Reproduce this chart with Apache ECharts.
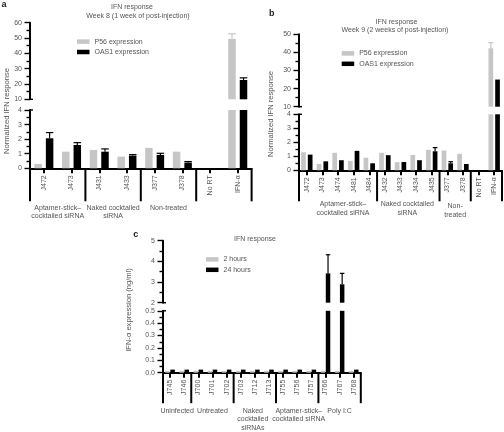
<!DOCTYPE html>
<html><head><meta charset="utf-8">
<script src="https://cdn.jsdelivr.net/npm/echarts@6/dist/echarts.min.js"></script>
<style>html,body{margin:0;padding:0;background:#fff}#c{width:504px;height:432px}</style>
</head><body><div id="c"></div>
<script>
// ---- Panel a data ----
const catsA = ['J472','J473','J431','J433','J377','J378','No RT','IFN-α'];
const p56A = [0.3, 1.14, 1.26, 0.8, 1.4, 1.14, 0, 49.5];
const p56ErrA = [null, null, null, null, null, null, null, 52.8];
const oasA = [2.06, 1.6, 1.14, 0.87, 0.92, 0.39, 0, 22.6];
const oasErrA = [2.45, 1.76, 1.33, 0.94, 1.03, 0.46, null, 24];
// ---- Panel b data ----
const catsB = ['J472','J473','J474','J481','J484','J432','J433','J434','J435','J377','J378','No RT','IFN-α'];
const p56B = [1.29, 0.45, 1.25, 0.67, 0.9, 1.25, 0.58, 1.1, 1.46, 1.41, 1.18, 0, 42.3];
const p56ErrB = [null, null, null, null, null, null, null, null, null, null, null, null, 45.4];
const oasB = [1.12, 0.64, 0.72, 1.39, 0.5, 1.08, 0.59, 0.72, 1.36, 0.5, 0.45, 0, 25];
const oasErrB = [null, null, null, null, null, null, null, null, 1.62, 0.61, null, null, null];
// ---- Panel c data ----
const catsC = ['J745','J746','J700','J701','J702','J703','J712','J713','J755','J756','J757','J766','J767','J768'];
const h2C = [0.015,0.015,0.015,0.015,0.015,0.015,0.015,0.015,0.015,0.015,0.015,0.015,0.015,0.015];
const h24C = [0.025,0.025,0.025,0.025,0.025,0.025,0.025,0.025,0.025,0.025,0.025,3.42,2.89,0.025];
const h24ErrC = [null,null,null,null,null,null,null,null,null,null,null,4.32,3.42,null];
// ---- tick labels / groups ----
const groupsA = [
  {from:0,to:2,label:'Aptamer-stick–\ncocktailed siRNA'},
  {from:2,to:4,label:'Naked cocktailed\nsiRNA'},
  {from:4,to:6,label:'Non-treated'},
  {from:6,to:8,label:''}];
const groupsB = [
  {from:0,to:5,label:'Aptamer-stick–\ncocktailed siRNA',dx:5},
  {from:5,to:9,label:'Naked cocktailed\nsiRNA',dx:-1},
  {from:9,to:11,label:'Non-\ntreated',dy:1.5},
  {from:11,to:13,label:''}];
const groupsC = [
  {from:0,to:2,label:'Uninfected'},
  {from:2,to:5,label:'Untreated'},
  {from:5,to:8,label:'Naked\ncocktailed\nsiRNAs',dx:-2},
  {from:8,to:11,label:'Aptamer-stick–\ncocktailed siRNA',dx:1.5},
  {from:11,to:14,label:'Poly I:C'}];

const FONT = '"Liberation Sans", Arial, Helvetica, sans-serif';
const TXT = '#555';
const GREY = '#c6c6c6';
const chart = echarts.init(document.getElementById('c'), null, {renderer:'canvas'});

const grids = [
  {left:30, top:22.7, width:221.6, height:76.6},
  {left:30, top:110, width:221.6, height:58.3},
  {left:299, top:34.3, width:203, height:72.4},
  {left:299, top:114.3, width:203, height:56},
  {left:163, top:240.7, width:197.8, height:62},
  {left:163, top:310.8, width:197.8, height:61.9}
].map(g => Object.assign({outerBoundsMode:'none', containLabel:false}, g));

function yAx(gi, min, max, interval, fmt) {
  return {type:'value', gridIndex:gi, min, max, interval,
    axisLine:{show:true, lineStyle:{color:'#000', width:2}},
    axisTick:{show:true, inside:false, length:5.5, lineStyle:{color:'#000', width:1.4}},
    minorTick:{show:true, splitNumber:2, length:3.5, lineStyle:{color:'#000', width:1.4}},
    splitLine:{show:false}, minorSplitLine:{show:false},
    axisLabel:{inside:false, color:TXT, fontSize:7, fontFamily:FONT, margin:8, formatter:fmt, showMinLabel:true, showMaxLabel:true, hideOverlap:false}};
}
function xAx(gi, cats, show) {
  return {type:'category', gridIndex:gi, data:cats, show,
    axisLine:{show:true, onZero:false, lineStyle:{color:'#000', width:2}},
    axisTick:{show:true, inside:false, alignWithLabel:true, length:5, lineStyle:{color:'#000', width:2}},
    axisLabel:{rotate:90, fontSize:7, color:TXT, fontFamily:FONT, margin:7, interval:0, hideOverlap:false},
    splitLine:{show:false}};
}
function bars(gi, data, color, name, w, gap) {
  return {type:'bar', name, xAxisIndex:gi, yAxisIndex:gi, data, barWidth:w, barGap:gap,
    itemStyle:{color}, clip:true, silent:true, animation:false, z:2};
}
function errs(gi, vals, tops, color, w, g, side) {
  const data = [];
  tops.forEach((t,i) => { if (t != null) data.push([i, vals[i], t]); });
  return {type:'custom', xAxisIndex:gi, yAxisIndex:gi, data, z:3, silent:true, animation:false,
    encode:{x:0, y:[1,2]},
    renderItem(params, api) {
      const i = api.value(0), v = api.value(1), t = api.value(2);
      const p0 = api.coord([i, v]), p1 = api.coord([i, t]);
      const cs = params.coordSys;
      const bot = cs.y + cs.height;
      if (p1[1] > bot || p0[1] < cs.y) return null;
      const x = p0[0] + side * (w + g) / 2;
      const y0 = Math.min(p0[1], bot), y1 = Math.max(p1[1], cs.y);
      const ch = [{type:'line', shape:{x1:x, y1:y0, x2:x, y2:y1}, style:{stroke:color, lineWidth:1.2}}];
      if (p1[1] >= cs.y) ch.push({type:'line', shape:{x1:x - w/2, y1:p1[1], x2:x + w/2, y2:p1[1]}, style:{stroke:color, lineWidth:1.2}});
      return {type:'group', children:ch};
    }};
}
const f0 = v => String(Math.round(v));
const f1 = v => v.toFixed(1);

const WA = 7.5, GA = 4, WB = 4.7, GB = 2, WC = 4.5, GC = 0.6;
const series = [];
[0,1].forEach(gi => {
  series.push(bars(gi, p56A, GREY, 'P56 expression', WA, (GA/WA*100)+'%'));
  series.push(bars(gi, oasA, '#000', 'OAS1 expression', WA, (GA/WA*100)+'%'));
  series.push(errs(gi, p56A, p56ErrA, GREY, WA, GA, -1));
  series.push(errs(gi, oasA, oasErrA, '#000', WA, GA, 1));
});
[2,3].forEach(gi => {
  series.push(bars(gi, p56B, GREY, 'P56 expression', WB, (GB/WB*100)+'%'));
  series.push(bars(gi, oasB, '#000', 'OAS1 expression', WB, (GB/WB*100)+'%'));
  series.push(errs(gi, p56B, p56ErrB, GREY, WB, GB, -1));
  series.push(errs(gi, oasB, oasErrB, '#000', WB, GB, 1));
});
[4,5].forEach(gi => {
  series.push(bars(gi, h2C, GREY, '2 hours', WC, (GC/WC*100)+'%'));
  series.push(bars(gi, h24C, '#000', '24 hours', WC, (GC/WC*100)+'%'));
  series.push(errs(gi, h24C, h24ErrC, '#000', WC, GC, 1));
});

const legTxt = {fontSize:7, color:TXT, fontFamily:FONT, lineHeight:8};
const legBase = {orient:'vertical', itemWidth:12.5, itemHeight:4.5, itemGap:2.4, icon:'rect', selectedMode:false, padding:0, textStyle:legTxt};

chart.setOption({
  animation:false,
  textStyle:{fontFamily:FONT},
  grid: grids,
  xAxis: [xAx(0,catsA,false), xAx(1,catsA,true), xAx(2,catsB,false), xAx(3,catsB,true), xAx(4,catsC,false), xAx(5,catsC,true)],
  yAxis: [yAx(0,10,60,10,f0), yAx(1,0,4,1,f0), yAx(2,10,50,10,f0), yAx(3,0,4,1,f0), yAx(4,2,5,1,f0), yAx(5,0,0.5,0.1,f1)],
  legend: [
    Object.assign({left:77, top:37.6, data:['P56 expression','OAS1 expression']}, legBase),
    Object.assign({left:341.7, top:49.4, data:['P56 expression','OAS1 expression']}, legBase),
    Object.assign({left:206, top:255.4, data:['2 hours','24 hours']}, legBase)
  ],
  series
});

// ---- decorations computed from the axes ----
const g = [];
function txt(text, x, y, opt) {
  opt = opt || {};
  g.push({type:'text', x, y, rotation:opt.rot || 0, silent:true,
    style:{text, fill:opt.fill || TXT, fontSize:opt.size || 7, fontFamily:FONT, fontWeight:opt.bold ? 'bold' : 'normal',
      textAlign:opt.align || 'center', align:opt.align || 'center',
      textVerticalAlign:opt.va || 'middle', verticalAlign:opt.va || 'middle', lineHeight:opt.lh || 8.6}});
}
function line(x1, y1, x2, y2, w) {
  g.push({type:'line', silent:true, shape:{x1, y1, x2, y2}, style:{stroke:'#000', lineWidth:w || 2}});
}
function decorate(xi, cats, groups, depth, labTop) {
  const c0 = chart.convertToPixel({xAxisIndex:xi}, 0);
  const c1 = chart.convertToPixel({xAxisIndex:xi}, 1);
  const band = c1 - c0;
  const bx = k => c0 - band/2 + k*band;
  const base = chart.convertToPixel({yAxisIndex:xi}, 0);
  const done = {};
  groups.forEach(gr => {
    [gr.from, gr.to].forEach(k => { if (!done[k]) { done[k] = 1; line(bx(k), base, bx(k), base + depth, 2); } });
    if (gr.label) txt(gr.label, (bx(gr.from) + bx(gr.to))/2 + (gr.dx || 0), labTop + (gr.dy || 0), {va:'top'});
  });
}
function breakStubs(upperYi, lowerYi, min, max) {
  const x = grids[lowerYi].left;
  const yb = chart.convertToPixel({yAxisIndex:upperYi}, min);
  const yt = chart.convertToPixel({yAxisIndex:lowerYi}, max);
  line(x, yb, x + 3, yb, 1.4);
  line(x, yt, x + 3, yt, 1.4);
}
decorate(1, catsA, groupsA, 33, 203.4);
decorate(3, catsB, groupsB, 31, 200.2);
decorate(5, catsC, groupsC, 30.5, 406.4);
breakStubs(0, 1, 10, 4);
breakStubs(2, 3, 10, 4);
breakStubs(4, 5, 2, 0.5);

txt('a', 4, 5, {bold:true, size:9, fill:'#222'});
txt('IFN response', 132, 6.7);
txt('Week 8 (1 week of post-injection)', 138, 15.7);
txt('b', 271.7, 13.7, {bold:true, size:9, fill:'#222'});
txt('IFN response', 396.5, 21.7);
txt('Week 9 (2 weeks of post-injection)', 395, 30);
txt('c', 135.7, 235, {bold:true, size:9, fill:'#222'});
txt('IFN response', 255, 239);
txt('Normalized IFN response', 7, 111, {rot:Math.PI/2, size:7.6});
txt('Normalized IFN response', 271, 114, {rot:Math.PI/2, size:7.6});
txt('IFN-α expression (ng/ml)', 129, 310, {rot:Math.PI/2, size:7.6});

chart.setOption({graphic:{elements:g}});
</script></body></html>
